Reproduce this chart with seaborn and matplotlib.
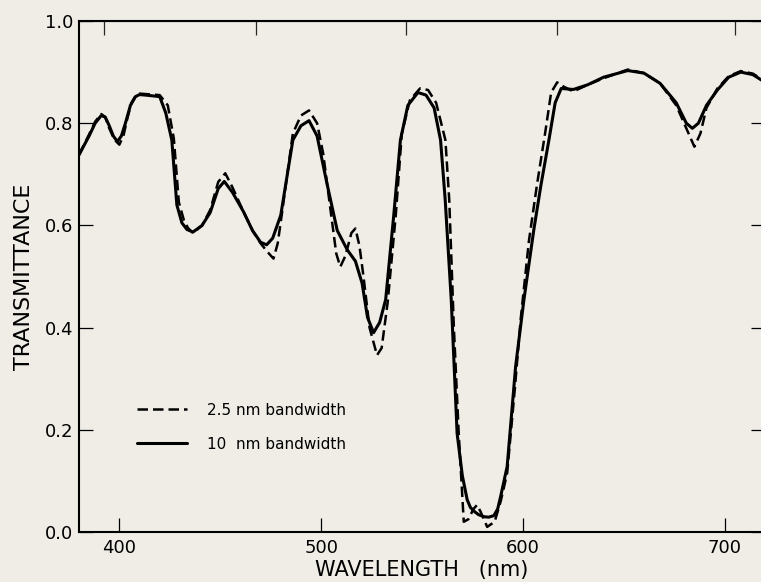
import matplotlib
matplotlib.use("Agg")
import matplotlib.pyplot as plt
import numpy as np
import pandas as pd
import seaborn as sns

wl_10 = [380, 385, 388, 391, 393, 395, 397, 399, 401, 403, 405.5, 408, 410,
         413, 420, 423, 426, 428.5, 431, 433.5, 436.5, 441, 445, 449, 452,
         456, 461.5, 466, 470, 473, 476, 480, 486, 490, 494, 498, 503, 508,
         513, 517, 520.3, 523, 526, 529, 532, 536, 539.3, 543, 548, 552, 556,
         559.2, 561.5, 564.5, 567.4, 570, 572.4, 574, 576, 578, 580.6, 583,
         585.6, 587.5, 589, 592.2, 596.4, 600.5, 605.4, 609, 612.9, 616, 619,
         625, 632, 640, 652, 660, 668, 676, 681, 684, 687, 691, 696.4, 702,
         708, 714, 720]
tr_10 = [0.738, 0.775, 0.800, 0.815, 0.812, 0.795, 0.775, 0.764, 0.775, 0.800,
         0.835, 0.852, 0.856, 0.855, 0.852, 0.820, 0.767, 0.640, 0.605, 0.592,
         0.587, 0.600, 0.625, 0.672, 0.686, 0.665, 0.627, 0.590, 0.567, 0.562,
         0.575, 0.620, 0.767, 0.795, 0.805, 0.775, 0.680, 0.590, 0.552, 0.530,
         0.487, 0.420, 0.390, 0.410, 0.455, 0.620, 0.767, 0.835, 0.860, 0.855,
         0.830, 0.767, 0.650, 0.454, 0.193, 0.110, 0.063, 0.048, 0.040, 0.034,
         0.030, 0.029, 0.032, 0.045, 0.070, 0.128, 0.324, 0.454, 0.591, 0.680,
         0.767, 0.840, 0.868, 0.866, 0.875, 0.890, 0.903, 0.898, 0.878, 0.840,
         0.800, 0.790, 0.800, 0.835, 0.865, 0.890, 0.900, 0.895, 0.880]

wl_25 = [380, 385, 388, 391, 393, 395, 397.5, 400, 402, 404, 406, 408, 410,
         413, 420, 424, 427, 429.5, 432, 434, 436.5, 441, 445, 449, 452.5,
         456, 461.5, 466, 470, 473, 476.4, 478.5, 480.6, 486, 490, 494, 498,
         501, 505, 507.5, 509.5, 512, 515, 517, 519, 521, 524, 527.7, 530,
         533, 537, 540, 544, 549, 553, 557, 561.6, 563.5, 565.8, 568.2, 570.7,
         573, 575.5, 577.3, 579, 582.3, 586, 589, 592.2, 596, 599, 603, 607,
         611, 614, 617, 620, 625, 632, 640, 652, 660, 668, 676, 681, 685, 688,
         691, 696.4, 702, 708, 714, 720]
tr_25 = [0.738, 0.778, 0.803, 0.818, 0.812, 0.790, 0.768, 0.758, 0.775, 0.810,
         0.840, 0.853, 0.858, 0.857, 0.855, 0.835, 0.770, 0.645, 0.610, 0.595,
         0.585, 0.600, 0.630, 0.685, 0.702, 0.675, 0.627, 0.590, 0.565, 0.550,
         0.535, 0.565, 0.624, 0.780, 0.815, 0.825, 0.800, 0.741, 0.620, 0.545,
         0.519, 0.540, 0.585, 0.594, 0.560, 0.500, 0.400, 0.346, 0.360, 0.450,
         0.620, 0.780, 0.845, 0.868, 0.865, 0.840, 0.767, 0.650, 0.400, 0.193,
         0.020, 0.025, 0.045, 0.053, 0.040, 0.010, 0.020, 0.060, 0.115, 0.280,
         0.420, 0.570, 0.680, 0.780, 0.860, 0.880, 0.872, 0.862, 0.875, 0.888,
         0.905, 0.898, 0.878, 0.835, 0.790, 0.754, 0.780, 0.830, 0.868, 0.892,
         0.902, 0.897, 0.882]

x_ticks = [400, 500, 600, 700]
y_ticks = [0.0, 0.2, 0.4, 0.6, 0.8, 1.0]
y_tick_labels = ["0.0", "0.2", "0.4", "0.6", "0.8", "1.0"]
top_ticks = [392.5, 467.7, 542, 617, 705]

sns.set_style("ticks")
plt.rcParams["font.family"] = ["DejaVu Sans"]
plt.rcParams["text.color"] = "black"
plt.rcParams["axes.labelcolor"] = "black"
bg = "#efede6"

fig = plt.figure(figsize=(7.61, 5.82), dpi=100, facecolor=bg)
ax = fig.add_axes([79 / 761, 50 / 582, 686 / 761, 511 / 582])
ax.set_facecolor(bg)

df25 = pd.DataFrame({"wl": wl_25, "T": tr_25})
df10 = pd.DataFrame({"wl": wl_10, "T": tr_10})
sns.lineplot(data=df25, x="wl", y="T", ax=ax, color="black", lw=1.8,
             linestyle=(0, (4.2, 2.0)), sort=False, estimator=None,
             label="2.5 nm bandwidth")
sns.lineplot(data=df10, x="wl", y="T", ax=ax, color="black", lw=2.2,
             sort=False, estimator=None, label="10  nm bandwidth")

ax.set_xlim(380, 720)
ax.set_ylim(0, 1.0)
ax.set_xticks(x_ticks)
ax.set_yticks(y_ticks)
ax.set_yticklabels(y_tick_labels)
ax.tick_params(direction="in", length=10, width=0.9, labelsize=13, pad=4,
               right=True, colors="black")
ax.tick_params(axis="x", pad=5)
for s in ax.spines.values():
    s.set_linewidth(1.5)
    s.set_color("black")

top = ax.secondary_xaxis("top")
top.set_xticks(top_ticks)
top.set_xticklabels([])
top.tick_params(direction="in", length=10, width=0.9)

ax.set_xlabel("WAVELENGTH   (nm)", fontsize=15, labelpad=2)
ax.set_ylabel("TRANSMITTANCE", fontsize=16, labelpad=8)

ax.legend(loc="upper left", bbox_to_anchor=(0.0845, 0.253), frameon=False,
          fontsize=11, handlelength=3.3, handletextpad=1.3, labelspacing=1.25,
          borderpad=0, borderaxespad=0)

fig.savefig("out.png", dpi=100, facecolor=bg)
